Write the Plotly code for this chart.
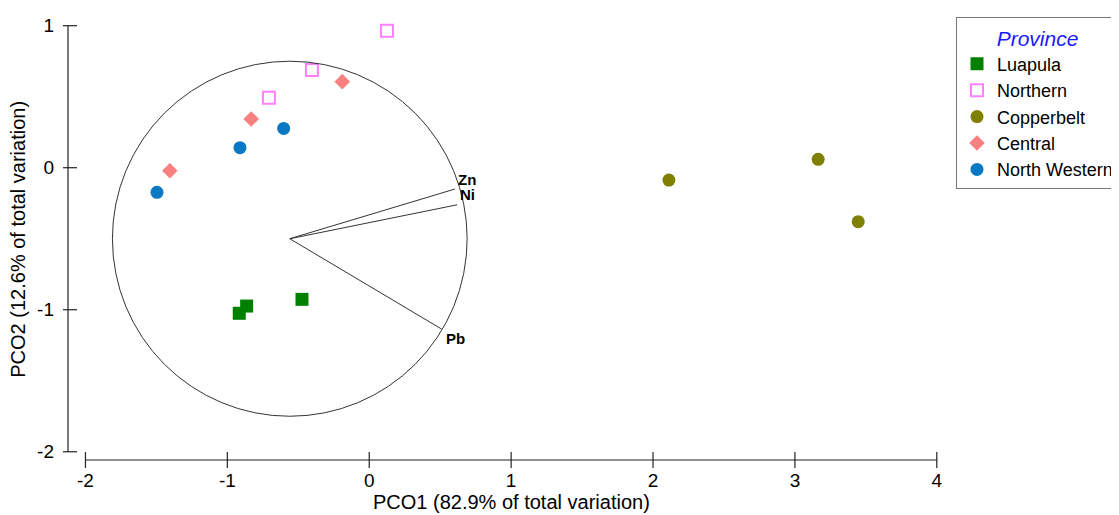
import plotly.graph_objects as go

# ---- data ----
luapula_x = [-0.916, -0.864, -0.474]
luapula_y = [-1.025, -0.974, -0.927]
northern_x = [0.125, -0.404, -0.707]
northern_y = [0.965, 0.688, 0.493]
copperbelt_x = [2.112, 3.164, 3.446]
copperbelt_y = [-0.087, 0.059, -0.380]
central_x = [-0.190, -0.832, -1.405]
central_y = [0.606, 0.343, -0.021]
nwestern_x = [-0.603, -0.911, -1.496]
nwestern_y = [0.277, 0.141, -0.173]

# correlation circle and vectors
circle_center = (-0.56, -0.50)
circle_radius = 1.25
vector_names = ["Zn", "Ni", "Pb"]
vector_end_x = [0.604, 0.620, 0.510]
vector_end_y = [-0.150, -0.261, -1.136]

x_ticks = [-2, -1, 0, 1, 2, 3, 4]
x_ticktext = ["-2", "-1", "0", "1", "2", "3", "4"]
y_ticks = [-2, -1, 0, 1]
y_ticktext = ["-2", "-1", "0", "1"]

FONT = "Liberation Sans, Arial, sans-serif"

fig = go.Figure()

series = [
    ("Luapula", luapula_x, luapula_y, dict(symbol="square", size=13, color="#008000")),
    ("Northern", northern_x, northern_y, dict(symbol="square-open", size=12, color="#ff80ff",
                                              line=dict(width=2, color="#ff80ff"))),
    ("Copperbelt", copperbelt_x, copperbelt_y, dict(symbol="circle", size=13, color="#808000")),
    ("Central", central_x, central_y, dict(symbol="diamond", size=12, color="#f88080")),
    ("North Western", nwestern_x, nwestern_y, dict(symbol="circle", size=13, color="#0a78c2")),
]

# vectors
for name, ex, ey in zip(vector_names, vector_end_x, vector_end_y):
    fig.add_trace(go.Scatter(x=[circle_center[0], ex], y=[circle_center[1], ey], mode="lines",
                             line=dict(color="#333333", width=1), showlegend=False, hoverinfo="skip"))

for name, xs, ys, mk in series:
    fig.add_trace(go.Scatter(x=xs, y=ys, mode="markers", name=name, marker=mk))

shapes = []
# correlation circle
shapes.append(dict(type="circle", xref="x", yref="y",
                   x0=circle_center[0] - circle_radius, x1=circle_center[0] + circle_radius,
                   y0=circle_center[1] - circle_radius, y1=circle_center[1] + circle_radius,
                   line=dict(color="#333333", width=1)))
# detached axis lines
shapes.append(dict(type="line", xref="x", yref="paper", x0=x_ticks[0], x1=x_ticks[-1], y0=0, y1=0,
                   line=dict(color="#222222", width=1.2)))
shapes.append(dict(type="line", xref="paper", yref="y", x0=0, x1=0, y0=y_ticks[0], y1=y_ticks[-1],
                   line=dict(color="#222222", width=1.2)))
for v in x_ticks:
    shapes.append(dict(type="line", xref="x", yref="paper", ysizemode="pixel", yanchor=0,
                       x0=v, x1=v, y0=-8, y1=8, line=dict(color="#222222", width=1.2)))
for v in y_ticks:
    shapes.append(dict(type="line", yref="y", xref="paper", xsizemode="pixel", xanchor=0,
                       y0=v, y1=v, x0=-5, x1=9, line=dict(color="#222222", width=1.2)))

annotations = []
label_shift = {"Zn": (1, 10), "Ni": (1, 10), "Pb": (2, -9)}
for name, ex, ey in zip(vector_names, vector_end_x, vector_end_y):
    dx, dy = label_shift[name]
    annotations.append(dict(x=ex, y=ey, xref="x", yref="y", text="<b>%s</b>" % name,
                            showarrow=False, xanchor="left", yanchor="middle",
                            xshift=dx, yshift=dy, font=dict(family=FONT, size=15, color="black")))
annotations.append(dict(x=1, xref="x", y=-0.0925, yref="paper", text="PCO1 (82.9% of total variation)",
                        showarrow=False, xanchor="center", yanchor="middle",
                        font=dict(family=FONT, size=20, color="black")))
annotations.append(dict(x=-0.0567, xref="paper", y=-0.5, yref="y", text="PCO2 (12.6% of total variation)",
                        showarrow=False, xanchor="center", yanchor="middle", textangle=-90,
                        font=dict(family=FONT, size=20, color="black")))

fig.update_layout(
    width=1125, height=507,
    margin=dict(l=60, r=183, t=1, b=55, autoexpand=False),
    paper_bgcolor="white", plot_bgcolor="white",
    font=dict(family=FONT, size=19, color="black"),
    showlegend=True,
    legend=dict(x=1.0068, xanchor="left", y=0.9816, yanchor="top",
                bordercolor="#777777", borderwidth=1, bgcolor="white",
                font=dict(family=FONT, size=18, color="black"),
                title=dict(text="<i>Province</i>", side="top center",
                           font=dict(family=FONT, size=21, color="#1a1aff")),
                tracegroupgap=0),
    xaxis=dict(range=[-2.123, 4.093], showgrid=False, zeroline=False, showline=False,
               tickmode="array", tickvals=x_ticks, ticktext=x_ticktext, ticks="",
               ticklabelstandoff=7, tickfont=dict(family=FONT, size=19, color="black")),
    yaxis=dict(range=[-2.058, 1.1176], showgrid=False, zeroline=False, showline=False,
               tickmode="array", tickvals=y_ticks, ticktext=y_ticktext, ticks="",
               ticklabelstandoff=13, tickfont=dict(family=FONT, size=19, color="black")),
    shapes=shapes,
    annotations=annotations,
)

fig.write_html("out.html")
